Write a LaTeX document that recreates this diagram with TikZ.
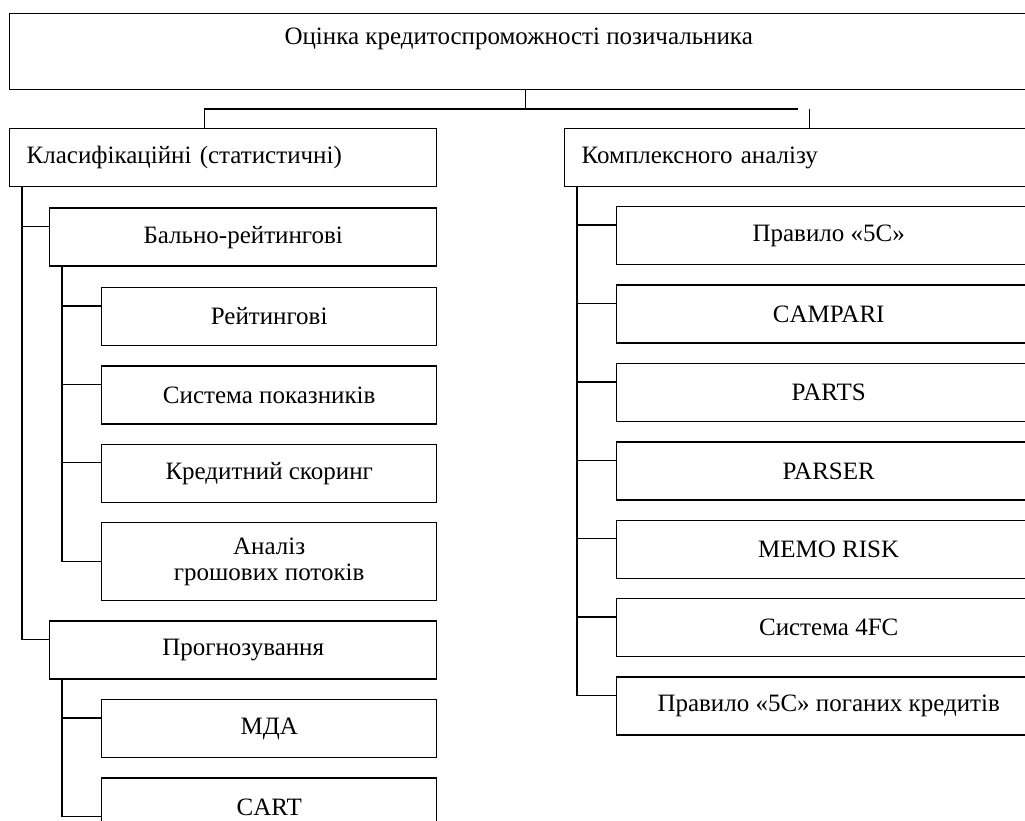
\documentclass[tikz,border=0pt]{standalone}
\usepackage{fontspec}
\setmainfont{Liberation Serif}
\usepackage{tikz}
\usetikzlibrary{positioning}
\tikzstyle{block} = [draw, rectangle, line width=1.4pt, inner sep=0pt,
    minimum height=58pt, font=\fontsize{25}{26}\selectfont]
\tikzstyle{group} = [block, align=left, inner xsep=17pt]
\tikzstyle{branch} = [block, minimum width=387pt]
\tikzstyle{leaf} = [block, minimum width=335pt]
\tikzstyle{method} = [block, minimum width=424pt]
\tikzstyle{line} = [draw, line width=1.4pt]

\begin{document}
\begin{tikzpicture}[x=1pt, y=1pt, node distance=19pt]
    \useasboundingbox (0,0) rectangle (1025,-820);
    \clip (0,0) rectangle (1025,-820);
    % We start by placing the blocks
    \node [block, anchor=north west, minimum width=1018pt, minimum height=76pt,
        text height=31pt, text depth=45pt] (ocinka) at (9,-13)
        {Оцінка кредитоспроможності позичальника};
    \node [group, anchor=north west, text width=393pt] (klas) at (9,-128)
        {Класифікаційні (статистичні)};
    \node [group, anchor=north west, text width=436pt] (kompl) at (564,-128)
        {Комплексного аналізу};

    % left branch
    \node [branch, below=20pt of klas.south east, anchor=north east] (bal) {Бально-рейтингові};
    \node [leaf, below=20pt of bal.south east, anchor=north east] (rejt) {Рейтингові};
    \node [leaf, below=of rejt] (syst) {Система показників};
    \node [leaf, below=of syst] (skor) {Кредитний скоринг};
    \node [leaf, below=of skor, minimum height=78pt, align=center] (potoky)
        {Аналіз\\грошових потоків};
    \node [branch, below=of potoky.south east, anchor=north east] (progn) {Прогнозування};
    \node [leaf, below=of progn.south east, anchor=north east] (mda) {МДА};
    \node [leaf, below=of mda] (cart) {CART};

    % right branch
    \node [method, anchor=north west] (p5c) at (616,-206) {Правило «5С»};
    \node [method, below=of p5c] (campari) {CAMPARI};
    \node [method, below=of campari] (parts) {PARTS};
    \node [method, below=of parts] (parser) {PARSER};
    \node [method, below=of parser] (memo) {MEMO RISK};
    \node [method, below=of memo] (fc4) {Система 4FC};
    \node [method, below=of fc4] (bad5c) {Правило «5С» поганих кредитів};

    % Once the nodes are placed, connecting them is easy.
    \coordinate (bus) at ([xshift=7pt, yshift=-20pt]ocinka.south);
    \coordinate (busend) at ([xshift=-2pt, yshift=19pt]kompl.north);
    \draw [line] (ocinka.south -| bus) -- (bus);
    \draw [line] ([xshift=-19pt]klas.north) |- (busend);
    \draw [line] ([xshift=10pt]kompl.north) -- ++(0,19);

    \foreach \n in {bal,progn}
        \draw [line] ([yshift=-19pt]\n.north west) -| ([xshift=13pt]klas.south west);
    \foreach \n in {rejt,syst,skor}
        \draw [line] ([yshift=-19pt]\n.north west) -| ([xshift=13pt]bal.south west);
    \draw [line] (potoky.west) -| ([xshift=13pt]bal.south west);
    \draw [line] ([yshift=-19pt]mda.north west) -| ([xshift=13pt]progn.south west);
    \draw [line] ([yshift=-39pt]cart.north west) -| ([xshift=13pt]progn.south west);
    \foreach \n in {p5c,campari,parts,parser,memo,fc4,bad5c}
        \draw [line] ([yshift=-19pt]\n.north west) -| ([xshift=13pt]kompl.south west);
\end{tikzpicture}
\end{document}
